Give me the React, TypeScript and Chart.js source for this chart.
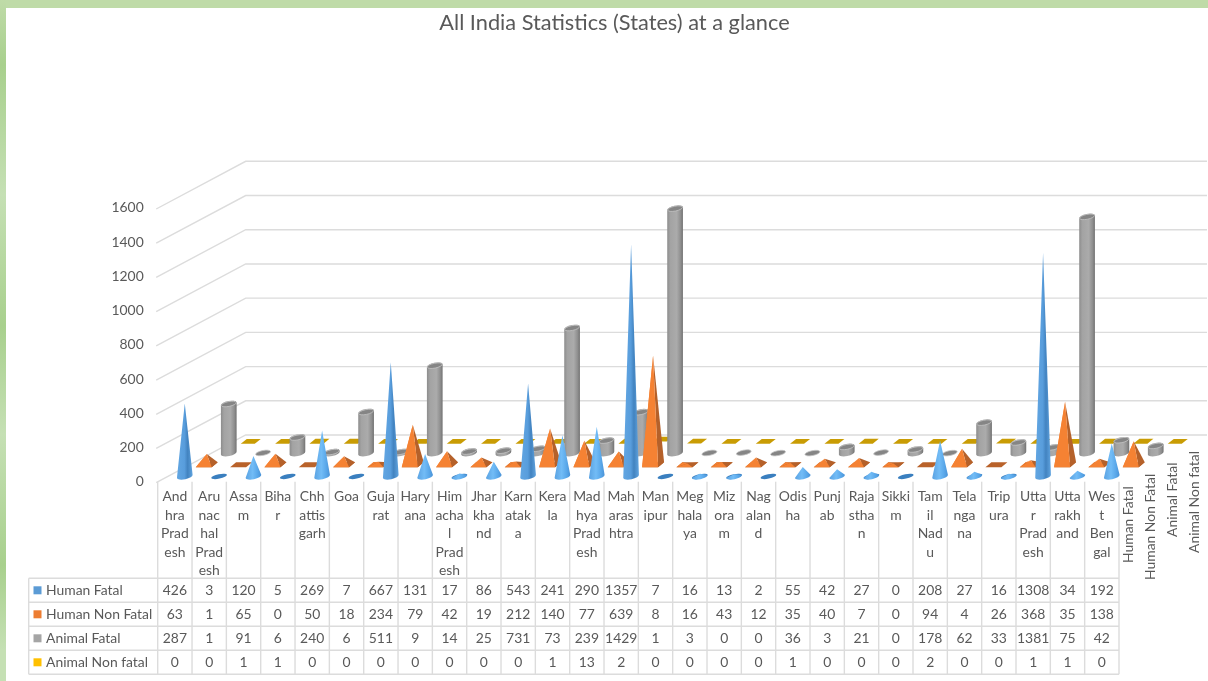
import React, { useEffect, useRef } from "react";
import { Chart, registerables } from "chart.js";

Chart.register(...registerables);

const chartTitle = "All India Statistics (States) at a glance";
const stateLabels: string[][] = [
  ["And", "hra", "Prad", "esh"], ["Aru", "nac", "hal", "Prad", "esh"], ["Assa", "m"], ["Biha", "r"],
  ["Chh", "attis", "garh"], ["Goa"], ["Guja", "rat"], ["Hary", "ana"],
  ["Him", "acha", "l", "Prad", "esh"], ["Jhar", "kha", "nd"], ["Karn", "atak", "a"], ["Kera", "la"],
  ["Mad", "hya", "Prad", "esh"], ["Mah", "aras", "htra"], ["Man", "ipur"], ["Meg", "hala", "ya"],
  ["Miz", "ora", "m"], ["Nag", "alan", "d"], ["Odis", "ha"], ["Punj", "ab"],
  ["Raja", "stha", "n"], ["Sikki", "m"], ["Tam", "il", "Nad", "u"], ["Tela", "nga", "na"],
  ["Trip", "ura"], ["Utta", "r", "Prad", "esh"], ["Utta", "rakh", "and"], ["Wes", "t", "Ben", "gal"],
];
const seriesNames = ["Human Fatal", "Human Non Fatal", "Animal Fatal", "Animal Non fatal"];
const seriesColors = ["#5b9bd5", "#ed7d31", "#a5a5a5", "#ffc000"];
const humanFatal = [426, 3, 120, 5, 269, 7, 667, 131, 17, 86, 543, 241, 290, 1357, 7, 16, 13, 2, 55, 42, 27, 0, 208, 27, 16, 1308, 34, 192];
const humanNonFatal = [63, 1, 65, 0, 50, 18, 234, 79, 42, 19, 212, 140, 77, 639, 8, 16, 43, 12, 35, 40, 7, 0, 94, 4, 26, 368, 35, 138];
const animalFatal = [287, 1, 91, 6, 240, 6, 511, 9, 14, 25, 731, 73, 239, 1429, 1, 3, 0, 0, 36, 3, 21, 0, 178, 62, 33, 1381, 75, 42];
const animalNonFatal = [0, 0, 1, 1, 0, 0, 0, 0, 0, 0, 0, 1, 13, 2, 0, 0, 0, 0, 1, 0, 0, 0, 2, 0, 0, 1, 1, 0];
const seriesValues = [humanFatal, humanNonFatal, animalFatal, animalNonFatal];

const FONT = "Lato, Carlito, sans-serif";
const TEXT = "#595959";
const GRID = "#dcdcdc";
const FONT_SIZE = 13.9;
const DEPTH_X = 88;
const DEPTH_Y = 46.7;
const TILT = -0.2;

function drawCone(ctx: CanvasRenderingContext2D, x: number, yb: number, h: number) {
  const rx = 8, ry = 2.8;
  if (h < 5) {
    ctx.beginPath();
    ctx.ellipse(x, yb, rx, ry - 0.6, TILT, 0, Math.PI * 2);
    ctx.fillStyle = "#3a7fbf";
    ctx.fill();
    if (h < 2) return;
  }
  const g = ctx.createLinearGradient(x - rx, 0, x + rx, 0);
  if (h < 60) {
    g.addColorStop(0, "#5aa2e2");
    g.addColorStop(0.45, "#72bcf6");
    g.addColorStop(0.75, "#5aa8ea");
    g.addColorStop(1, "#4a92d6");
  } else {
    g.addColorStop(0, "#62a6e2");
    g.addColorStop(0.48, "#589ddc");
    g.addColorStop(0.68, "#4283c0");
    g.addColorStop(1, "#62a5e0");
  }
  ctx.beginPath();
  ctx.moveTo(x, yb - h);
  ctx.ellipse(x, yb, rx, ry, TILT, 0, Math.PI);
  ctx.closePath();
  ctx.fillStyle = g;
  ctx.fill();
}

function drawPyramid(ctx: CanvasRenderingContext2D, x: number, yc: number, h: number) {
  const yf = yc + 2.5, yBack = yc - 2.5;
  const fl: [number, number] = [x - 11, yf], fr: [number, number] = [x + 5, yf];
  const br: [number, number] = [x + 11, yBack], bl: [number, number] = [x - 5, yBack];
  const tip: [number, number] = [x, yc - h];
  const face = (pts: [number, number][], fill: string) => {
    ctx.beginPath();
    pts.forEach((p, i) => (i ? ctx.lineTo(p[0], p[1]) : ctx.moveTo(p[0], p[1])));
    ctx.closePath();
    ctx.fillStyle = fill;
    ctx.fill();
  };
  face([fl, fr, br, bl], "#b9622a");
  if (h < 1) return;
  face([bl, fl, tip], "#f58233");
  face([fr, br, tip], "#b5612a");
  face([fl, fr, tip], "#f58233");
}

function drawCylinder(ctx: CanvasRenderingContext2D, x: number, yb: number, h: number) {
  const rx = 8, ry = 3;
  const yt = yb - h;
  if (h >= 1) {
    const g = ctx.createLinearGradient(x - rx, 0, x + rx, 0);
    g.addColorStop(0, "#8b8b8b");
    g.addColorStop(0.2, "#a3a3a3");
    g.addColorStop(0.6, "#ababab");
    g.addColorStop(0.85, "#8e8e8e");
    g.addColorStop(1, "#6f6f6f");
    ctx.beginPath();
    ctx.ellipse(x, yt, rx, ry, TILT, Math.PI, 0);
    ctx.ellipse(x, yb, rx, ry, TILT, 0, Math.PI);
    ctx.closePath();
    ctx.fillStyle = g;
    ctx.fill();
  }
  ctx.beginPath();
  ctx.ellipse(x, yt, rx - 0.4, ry - 0.6, TILT, 0, Math.PI * 2);
  ctx.fillStyle = "#858585";
  ctx.fill();
  ctx.lineWidth = 0.8;
  ctx.strokeStyle = "#c4c4c4";
  ctx.stroke();
}

function drawFlat(ctx: CanvasRenderingContext2D, x: number, yc: number, h: number) {
  ctx.beginPath();
  ctx.moveTo(x - 10, yc + 2.4 - h);
  ctx.lineTo(x + 4, yc + 2.4 - h);
  ctx.lineTo(x + 10, yc - 2.4 - h);
  ctx.lineTo(x - 4, yc - 2.4 - h);
  ctx.closePath();
  ctx.fillStyle = "#c99c04";
  ctx.fill();
}

const walls3d = {
  id: "walls3d",
  beforeDatasetsDraw(chart: any) {
    const { ctx, scales, chartArea } = chart;
    const y = scales.y;
    ctx.save();
    ctx.strokeStyle = GRID;
    ctx.lineWidth = 1.4;
    y.ticks.forEach((t: any) => {
      const py = y.getPixelForValue(t.value);
      ctx.beginPath();
      ctx.moveTo(chartArea.left - 1.5, py + 1);
      ctx.lineTo(chartArea.left + DEPTH_X, py - DEPTH_Y);
      ctx.lineTo(1207, py - DEPTH_Y);
      ctx.stroke();
    });
    // marks, back series first
    for (let i = chart.data.datasets.length - 1; i >= 0; i--) {
      const meta = chart.getDatasetMeta(i);
      const off = i + 0.45;
      const dx = (off * DEPTH_X) / 4;
      const dy = (off * DEPTH_Y) / 4;
      meta.data.forEach((el: any) => {
        const h = el.base - el.y;
        const x = el.x + dx;
        const yb = el.base - dy;
        if (i === 0) drawCone(ctx, x, yb, h);
        else if (i === 1) drawPyramid(ctx, x, yb, h);
        else if (i === 2) drawCylinder(ctx, x, yb, h);
        else drawFlat(ctx, x, yb, h);
      });
    }
    ctx.restore();
    return false;
  },
  afterDraw(chart: any) {
    const { ctx, scales, chartArea } = chart;
    const xs = scales.x;
    const colW = (chartArea.right - chartArea.left) / stateLabels.length;
    const rowTop = 578.3;
    const rowH = 24;
    const tableLeft = 28.7;
    ctx.save();
    ctx.strokeStyle = GRID;
    ctx.lineWidth = 1.4;
    for (let c = 0; c <= stateLabels.length; c++) {
      const px = chartArea.left + c * colW;
      ctx.beginPath();
      ctx.moveTo(px, chartArea.bottom);
      ctx.lineTo(px, rowTop + rowH * 4);
      ctx.stroke();
    }
    for (let r = 0; r <= 4; r++) {
      ctx.beginPath();
      ctx.moveTo(tableLeft, rowTop + r * rowH);
      ctx.lineTo(chartArea.right, rowTop + r * rowH);
      ctx.stroke();
    }
    ctx.beginPath();
    ctx.moveTo(tableLeft, rowTop);
    ctx.lineTo(tableLeft, rowTop + 4 * rowH);
    ctx.stroke();
    ctx.font = `${FONT_SIZE}px ${FONT}`;
    ctx.textBaseline = "middle";
    seriesNames.forEach((name, r) => {
      const cy = rowTop + r * rowH + rowH / 2;
      ctx.fillStyle = seriesColors[r];
      ctx.fillRect(33.5, cy - 4, 8, 8);
      ctx.fillStyle = TEXT;
      ctx.textAlign = "left";
      ctx.fillText(name, 46, cy);
      ctx.textAlign = "center";
      seriesValues[r].forEach((v, c) => {
        ctx.fillText(String(v), xs.getPixelForValue(c), cy);
      });
    });
    // depth-axis labels
    const depthLabels: [number, number][] = [[1129, 563], [1151, 580], [1173, 537], [1195, 553]];
    seriesNames.forEach((name, i) => {
      ctx.save();
      ctx.translate(depthLabels[i][0], depthLabels[i][1]);
      ctx.rotate(-Math.PI / 2);
      ctx.textAlign = "left";
      ctx.fillStyle = TEXT;
      ctx.fillText(name, 0, 0);
      ctx.restore();
    });
    ctx.restore();
  },
};

export default function App() {
  const ref = useRef<HTMLCanvasElement>(null);
  useEffect(() => {
    const chart = new Chart(ref.current as HTMLCanvasElement, {
      type: "bar",
      plugins: [walls3d as any],
      data: {
        labels: stateLabels as any,
        datasets: seriesNames.map((name, i) => ({
          label: name,
          data: seriesValues[i],
          backgroundColor: seriesColors[i],
          grouped: false,
        })),
      },
      options: {
        responsive: false,
        animation: false,
        layout: { padding: { left: 21, right: 0, top: 0, bottom: 0 } },
        plugins: {
          legend: { display: false },
          tooltip: { enabled: false },
          title: {
            display: true,
            text: chartTitle,
            color: TEXT,
            font: { family: FONT, size: 21.75, weight: "normal", lineHeight: 1.2 },
            padding: { top: 10, bottom: 171.9 },
          },
        },
        scales: {
          x: {
            grid: { display: false, drawTicks: false },
            border: { display: false },
            afterFit(scale: any) { scale.height = 199.3; },
            ticks: {
              autoSkip: false,
              maxRotation: 0,
              minRotation: 0,
              color: TEXT,
              padding: 6,
              font: { family: FONT, size: FONT_SIZE, lineHeight: 1.33 },
            },
          },
          y: {
            min: 0,
            max: 1600,
            afterFit(scale: any) { scale.width = 136.7; },
            grid: { display: false, drawTicks: false },
            border: { display: false },
            ticks: {
              stepSize: 200,
              color: TEXT,
              padding: 14,
              font: { family: FONT, size: FONT_SIZE },
              callback: (v: any) => String(v),
            },
          },
          rightGutter: {
            type: "linear",
            position: "right",
            min: 0,
            max: 1600,
            afterFit(scale: any) { scale.width = 89; },
            grid: { display: false, drawTicks: false },
            border: { display: false },
            ticks: { display: false },
          },
        },
      } as any,
    });
    return () => chart.destroy();
  }, []);
  return (
    <div style={{ position: "fixed", left: 0, top: 0, width: 1208, height: 681, background: "#fff", overflow: "hidden" }}>
      <canvas ref={ref} width={1208} height={681} style={{ position: "absolute", left: 0, top: 0, display: "block", filter: "blur(0.45px)" }} />
      <div style={{ position: "absolute", left: 0, top: 0, width: 1208, height: 8, background: "#bfdba8" }} />
      <div
        style={{
          position: "absolute", left: 0, top: 0, width: 6, height: 681,
          background: "linear-gradient(180deg,#bfdba8 0,#a8d08d 65px,#c5e0b4 195px,#a8d08d 326px,#c5e0b4 434px,#a8d08d 565px,#c5e0b4 650px,#c5e0b4 681px)",
        }}
      />
    </div>
  );
}
